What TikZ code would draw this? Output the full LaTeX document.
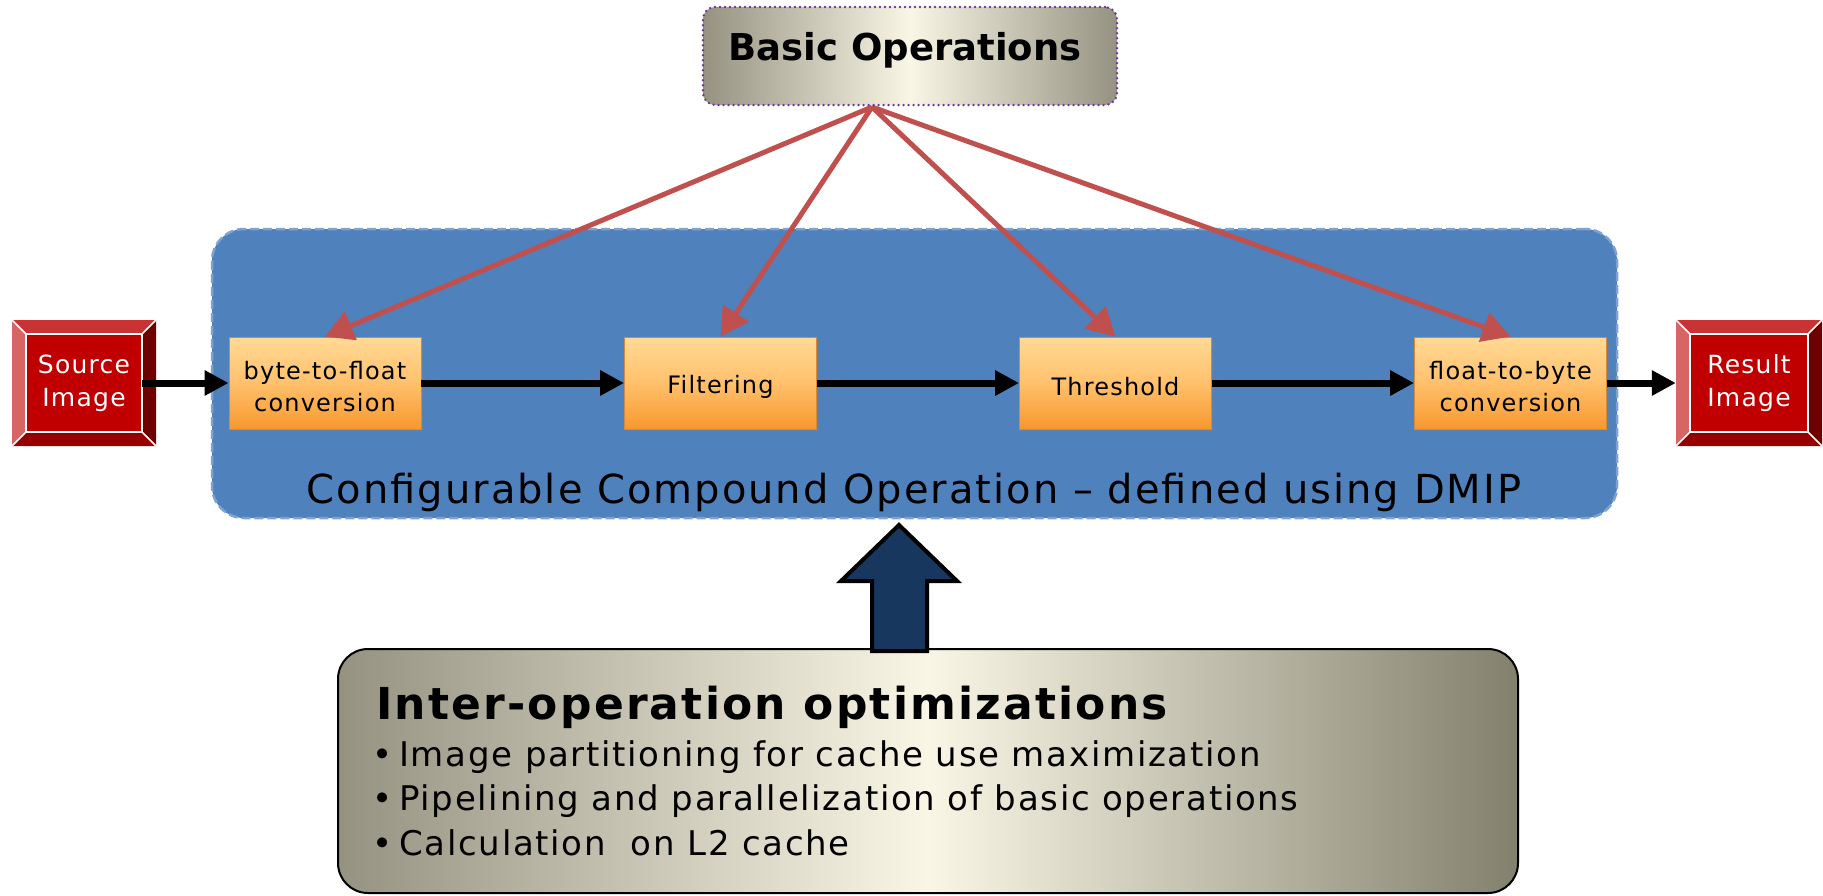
\documentclass[tikz,border=0pt]{standalone}
\usepackage{fontspec}
\setmainfont{DejaVu Sans}
\newfontfamily\widefont{DejaVu Sans}[LetterSpace=5]
\newfontfamily\titlefont{DejaVu Sans}[LetterSpace=5]
\usetikzlibrary{arrows.meta,calc,shadows}

\definecolor{panelblue}{HTML}{4F81BD}
\definecolor{panelrim}{HTML}{7FA3D0}
\definecolor{linkred}{HTML}{C0504D}
\definecolor{navy}{HTML}{17375E}
\definecolor{plum}{HTML}{7030A0}
\definecolor{oliveedge}{HTML}{959281}
\definecolor{olivedark}{HTML}{83816E}
\definecolor{cream}{HTML}{F9F6E6}
\definecolor{ortop}{HTML}{FFDA96}
\definecolor{ormid}{HTML}{FFC06C}
\definecolor{orbot}{HTML}{F8982E}
\definecolor{orline}{HTML}{D28B3C}
\definecolor{bvface}{HTML}{C00000}
\definecolor{bvtop}{HTML}{C93333}
\definecolor{bvleft}{HTML}{D86565}
\definecolor{bvright}{HTML}{6E0000}
\definecolor{bvbottom}{HTML}{960000}

\tikzset{
  opbox/.style={minimum width=192pt, minimum height=92pt, inner sep=0pt,
    draw=orline, line width=0.8pt,
    top color=ortop, bottom color=orbot, middle color=ormid,
    drop shadow={opacity=0.35, shadow xshift=2pt, shadow yshift=-3pt}},
  optext/.style={inner sep=0pt, yshift=-4pt,
    font=\widefont\fontsize{24}{32}\selectfont, align=center},
  bevelbox/.style={minimum width=#1, minimum height=126pt, inner sep=0pt,
    fill=bvface, text=white,
    font=\widefont\fontsize{25}{33}\selectfont, align=center,
    path picture={
      \path (path picture bounding box.north west) coordinate (pA)
            (path picture bounding box.north east) coordinate (pB)
            (path picture bounding box.south east) coordinate (pC)
            (path picture bounding box.south west) coordinate (pD);
      \path ($(pA)+(14,14)$) coordinate (qA) ($(pB)+(-14,14)$) coordinate (qB)
            ($(pC)+(-14,-14)$) coordinate (qC) ($(pD)+(14,-14)$) coordinate (qD);
      \fill[bvtop] (pA) -- (pB) -- (qB) -- (qA) -- cycle;
      \fill[bvbottom] (pD) -- (pC) -- (qC) -- (qD) -- cycle;
      \fill[bvleft] (pA) -- (qA) -- (qD) -- (pD) -- cycle;
      \fill[bvright] (pB) -- (qB) -- (qC) -- (pC) -- cycle;
      \fill[bvface] (qA) rectangle (qC);
      \draw[white, line width=1.6pt] (qA) rectangle (qC)
            (pA) -- (qA) (pB) -- (qB) (pC) -- (qC) (pD) -- (qD);
    }},
  flow/.style={line width=7pt, -{Triangle[length=24pt,width=24pt]}},
  feed/.style={draw=linkred, line width=5pt, -{Triangle[length=28pt,width=30pt]}},
  bullet/.style={anchor=base west, inner sep=0pt, font=\widefont\fontsize{34}{40}\selectfont},
}

\begin{document}
\begin{tikzpicture}[x=1pt, y=-1pt]
\useasboundingbox (0,0) rectangle (1823,895);

% compound-operation panel
\node[fill=panelblue, draw=panelrim, line width=2.5pt, dash pattern=on 9pt off 4pt,
      rounded corners=32pt, minimum width=1405pt, minimum height=289pt, inner sep=0pt]
      (panel) at (914.5,373.5) {};
\node[anchor=base, inner sep=0pt, font=\widefont\fontsize{40}{46}\selectfont]
      (panellabel) at (914,503) {Configurable Compound Operation – defined using DMIP};

% input and output images
\node[bevelbox=144pt] (src) at (84,383) {Source\\Image};
\node[bevelbox=146pt] (res) at (1749,383) {Result\\Image};

% pipeline stages
\node[opbox, label={[optext]center:{byte-to-float\\conversion}}] (b2f) at (325,383) {};
\node[opbox, label={[optext]center:Filtering}] (filt) at (720.5,383) {};
\node[opbox, label={[optext]center:Threshold}] (thr) at (1115.5,383) {};
\node[opbox, label={[optext]center:{float-to-byte\\conversion}}] (f2b) at (1510.5,383) {};

\draw[flow, shorten <=-14pt] (src.east) -- (b2f.west);
\draw[flow] (b2f) -- (filt);
\draw[flow] (filt) -- (thr);
\draw[flow] (thr) -- (f2b);
\draw[flow] (f2b.east) -- (res.west);

% basic operations feeding every stage
\coordinate (fan) at (872,107);
\draw[feed] (fan) -- (b2f.north);
\draw[feed] (fan) -- (filt.north);
\draw[feed] (fan) -- (thr.north);
\draw[feed] (fan) -- (f2b.north);

\node[draw=plum, line width=2.6pt, dash pattern=on 0pt off 5pt, line cap=round,
      rounded corners=12pt, left color=oliveedge, right color=oliveedge, middle color=cream,
      minimum width=414pt, minimum height=98pt, inner sep=0pt,
      font=\bfseries\fontsize{37}{44}\selectfont, text depth=19pt]
      (basic) at (910,56) {Basic Operations\kern10pt};

% optimizations box
\node[draw=black, line width=2pt, rounded corners=30pt,
      left color=oliveedge, right color=olivedark, middle color=cream,
      minimum width=1180pt, minimum height=244pt, inner sep=0pt]
      (opt) at (928,771) {};
\node[anchor=base west, inner sep=0pt, font=\titlefont\bfseries\fontsize{44}{50}\selectfont]
      (opttitle) at (376,719) {Inter-operation optimizations};
\node[bullet] (opt1) at (372,766) {•\kern7pt Image partitioning for cache use maximization};
\node[bullet] (opt2) at (372,810) {•\kern7pt Pipelining and parallelization of basic operations};
\node[bullet] (opt3) at (372,855) {•\kern7pt Calculation\ \ on L2 cache};

% upward block arrow
\filldraw[fill=navy, draw=black, line width=4pt, line join=miter]
  (899,525) -- (957,581) -- (927,581) -- (927,651) -- (872,651)
  -- (872,581) -- (841,581) -- cycle;
\end{tikzpicture}
\end{document}
